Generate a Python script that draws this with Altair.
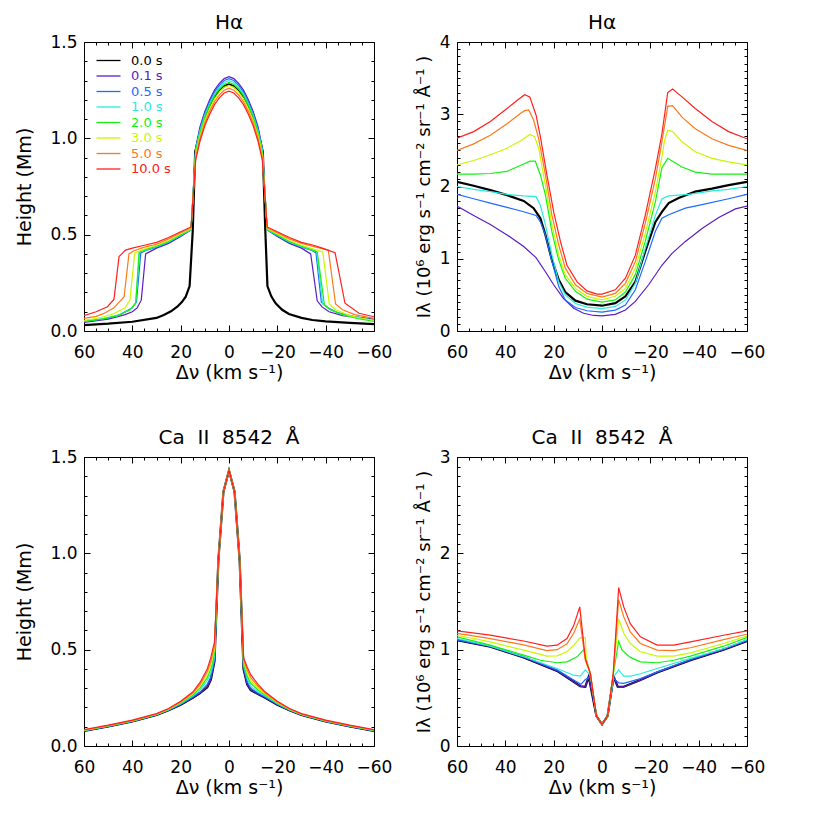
import altair as alt
import pandas as pd

FONT = "DejaVu Sans"
LABELS = ["0.0 s", "0.1 s", "0.5 s", "1.0 s", "2.0 s", "3.0 s", "5.0 s", "10.0 s"]
COLORS = ["#000000", "#5c1cc4", "#1c6cff", "#28ecdc", "#14f014", "#c8f800", "#ff7818", "#ff2020"]

XMAJ = [60, 40, 20, 0, -20, -40, -60]
XMIN = [55, 50, 45, 35, 30, 25, 15, 10, 5, -5, -10, -15, -25, -30, -35, -45, -50, -55]

# ---------------- H-alpha: formation height (Mm) ----------------
HA_HEIGHT = {
    "0.0 s": ([60, 50, 40, 30, 27, 24, 21.4, 19.5, 17.9, 16.3, 15.0, 14.0, 12, 10, 8, 6, 4, 2, 0, -2, -4, -6, -8, -10, -12, -14.0, -15.0, -15.9, -17.5, -19.3, -22, -24.8, -30, -34.5, -40, -50, -60],
              [0.031, 0.038, 0.048, 0.068, 0.083, 0.102, 0.126, 0.15, 0.178, 0.233, 0.52, 0.93, 1.03, 1.11, 1.17, 1.215, 1.25, 1.27, 1.28, 1.27, 1.25, 1.215, 1.17, 1.11, 1.03, 0.93, 0.53, 0.233, 0.18, 0.144, 0.11, 0.088, 0.068, 0.057, 0.05, 0.042, 0.036]),
    "0.1 s": ([60, 50, 46, 43, 40, 38, 36.3, 34.5, 30, 25, 20, 15.7, 13.8, 12, 10, 8, 6, 4, 2, 0, -2, -4, -6, -8, -10, -12, -13.8, -15.8, -20, -25, -30, -33.8, -36.5, -38.5, -41.4, -47, -60],
              [0.045, 0.062, 0.074, 0.085, 0.10, 0.12, 0.16, 0.40, 0.43, 0.455, 0.49, 0.525, 0.95, 1.06, 1.14, 1.20, 1.25, 1.285, 1.31, 1.32, 1.31, 1.285, 1.25, 1.20, 1.14, 1.06, 0.95, 0.525, 0.49, 0.455, 0.43, 0.40, 0.157, 0.125, 0.10, 0.08, 0.062]),
    "0.5 s": ([60, 50, 45, 40, 38.3, 36.5, 34, 30, 25, 20, 15.7, 13.8, 12, 10, 8, 6, 4, 2, 0, -2, -4, -6, -8, -10, -12, -13.8, -15.8, -20, -25, -30, -34, -36, -38.2, -41, -45, -52, -60],
              [0.048, 0.065, 0.085, 0.12, 0.15, 0.405, 0.42, 0.435, 0.46, 0.495, 0.525, 0.945, 1.05, 1.13, 1.19, 1.24, 1.275, 1.30, 1.31, 1.30, 1.275, 1.24, 1.19, 1.13, 1.05, 0.945, 0.525, 0.495, 0.46, 0.435, 0.42, 0.405, 0.15, 0.12, 0.095, 0.075, 0.058]),
    "1.0 s": ([60, 52, 46, 41, 38.6, 37, 34, 30, 25, 20, 15.7, 13.8, 12, 10, 8, 6, 4, 2, 0, -2, -4, -6, -8, -10, -12, -13.8, -15.8, -20, -25, -30, -34, -36.3, -38.8, -42, -47, -53, -60],
              [0.05, 0.065, 0.082, 0.11, 0.145, 0.41, 0.422, 0.438, 0.462, 0.497, 0.525, 0.94, 1.04, 1.12, 1.18, 1.23, 1.265, 1.29, 1.30, 1.29, 1.265, 1.23, 1.18, 1.12, 1.04, 0.94, 0.525, 0.497, 0.462, 0.438, 0.422, 0.41, 0.14, 0.11, 0.085, 0.068, 0.055]),
    "2.0 s": ([60, 52, 46, 41, 38.6, 37.2, 34, 30, 25, 20, 15.7, 13.8, 12, 10, 8, 6, 4, 2, 0, -2, -4, -6, -8, -10, -12, -13.8, -15.8, -20, -25, -30, -34, -36.5, -39.5, -42, -47, -53, -60],
              [0.05, 0.063, 0.08, 0.11, 0.145, 0.41, 0.425, 0.44, 0.465, 0.50, 0.527, 0.93, 1.03, 1.11, 1.17, 1.22, 1.255, 1.28, 1.29, 1.28, 1.255, 1.22, 1.17, 1.11, 1.03, 0.93, 0.527, 0.50, 0.465, 0.44, 0.425, 0.41, 0.135, 0.11, 0.085, 0.065, 0.05]),
    "3.0 s": ([60, 53, 48, 43, 41, 39, 34, 30, 25, 20, 15.7, 13.8, 12, 10, 8, 6, 4, 2, 0, -2, -4, -6, -8, -10, -12, -13.8, -15.8, -20, -25, -30, -35, -38.8, -41.5, -44, -50, -55, -60],
              [0.055, 0.07, 0.088, 0.12, 0.16, 0.405, 0.43, 0.445, 0.47, 0.505, 0.53, 0.915, 1.015, 1.095, 1.155, 1.205, 1.24, 1.265, 1.275, 1.265, 1.24, 1.205, 1.155, 1.095, 1.015, 0.915, 0.53, 0.505, 0.47, 0.445, 0.425, 0.41, 0.14, 0.11, 0.08, 0.066, 0.055]),
    "5.0 s": ([60, 55, 52, 47.6, 43.4, 41.4, 39.5, 35, 30, 25, 20, 15.7, 13.8, 12, 10, 8, 6, 4, 2, 0, -2, -4, -6, -8, -10, -12, -13.8, -15.8, -20, -25, -30, -36, -41.1, -44.1, -47, -52, -60],
              [0.065, 0.076, 0.09, 0.12, 0.178, 0.40, 0.415, 0.435, 0.45, 0.478, 0.51, 0.535, 0.90, 1.00, 1.08, 1.14, 1.19, 1.225, 1.25, 1.26, 1.25, 1.225, 1.19, 1.14, 1.08, 1.00, 0.90, 0.535, 0.51, 0.478, 0.455, 0.435, 0.42, 0.14, 0.11, 0.085, 0.065]),
    "10.0 s": ([60, 55, 50.3, 47.6, 45.5, 42.8, 40, 35, 30, 25, 20, 15.7, 13.8, 12, 10, 8, 6, 4, 2, 0, -2, -4, -6, -8, -10, -12, -13.8, -15.8, -20, -25, -30, -35, -38.6, -43.9, -48, -53.8, -60],
               [0.08, 0.1, 0.126, 0.164, 0.386, 0.42, 0.43, 0.445, 0.46, 0.485, 0.515, 0.54, 0.885, 0.985, 1.065, 1.125, 1.175, 1.21, 1.235, 1.245, 1.235, 1.21, 1.175, 1.125, 1.065, 0.985, 0.885, 0.54, 0.515, 0.485, 0.46, 0.445, 0.43, 0.406, 0.144, 0.092, 0.074]),
}

# ---------------- H-alpha: intensity ----------------
HA_INT = {
    "0.0 s": ([60, 53.1, 46.2, 39.3, 32.4, 28.3, 25.5, 23.4, 20.7, 17.9, 15.2, 11, 6.2, 0, -5.5, -9.7, -13.8, -17.9, -22.1, -24.8, -27.6, -31.7, -38.6, -45.5, -52.4, -60],
              [2.065, 2.01, 1.95, 1.88, 1.80, 1.70, 1.56, 1.33, 0.98, 0.71, 0.54, 0.42, 0.37, 0.35, 0.385, 0.48, 0.68, 1.10, 1.51, 1.65, 1.77, 1.84, 1.93, 1.97, 2.02, 2.065]),
    "0.1 s": ([60, 53.1, 46.2, 39.3, 32.4, 27.3, 23.4, 20, 15.9, 11.7, 7.6, 3.4, 0, -5.5, -9.7, -13.8, -19.3, -24.8, -29, -34.5, -41.4, -48.3, -55.2, -60],
              [1.73, 1.60, 1.475, 1.33, 1.17, 1.015, 0.82, 0.64, 0.45, 0.315, 0.245, 0.215, 0.21, 0.23, 0.29, 0.41, 0.64, 0.91, 1.075, 1.24, 1.42, 1.57, 1.69, 1.73]),
    "0.5 s": ([60, 53.1, 46.2, 39.3, 32.4, 27.3, 25.5, 23.4, 20.7, 17.9, 15.2, 11, 6.2, 0, -5.5, -9.7, -13.8, -17.9, -22.1, -24.8, -27.6, -34.5, -41.4, -52.4, -60],
              [1.89, 1.83, 1.77, 1.71, 1.65, 1.60, 1.51, 1.33, 0.96, 0.615, 0.43, 0.325, 0.28, 0.26, 0.29, 0.36, 0.57, 0.96, 1.38, 1.56, 1.61, 1.70, 1.75, 1.83, 1.89]),
    "1.0 s": ([60, 53.1, 46.2, 39.3, 32.4, 27.3, 25.5, 23.4, 20.7, 17.9, 15.2, 11, 6.2, 0, -5.5, -9.7, -13.8, -17.9, -22.1, -24.8, -27.6, -35.9, -45.5, -52.4, -60],
              [2.00, 1.96, 1.93, 1.89, 1.87, 1.86, 1.74, 1.47, 1.05, 0.68, 0.50, 0.38, 0.33, 0.31, 0.34, 0.43, 0.66, 1.14, 1.60, 1.83, 1.87, 1.89, 1.94, 1.96, 2.00]),
    "2.0 s": ([60, 53.1, 46.2, 39.3, 33.8, 29.7, 27.6, 25.5, 23.4, 20.7, 17.9, 15.2, 11, 6.2, 0, -5.5, -9.7, -13.8, -17.9, -22.1, -24.8, -27.2, -29.2, -33.1, -38.6, -45.5, -60],
              [2.17, 2.17, 2.18, 2.21, 2.29, 2.35, 2.35, 2.16, 1.88, 1.37, 0.98, 0.73, 0.55, 0.44, 0.40, 0.43, 0.54, 0.78, 1.24, 1.79, 2.26, 2.39, 2.35, 2.27, 2.20, 2.17, 2.17]),
    "3.0 s": ([60, 53.1, 46.2, 39.3, 33.8, 29.9, 27.9, 26.2, 23.4, 20.7, 17.9, 15.2, 11, 6.2, 0, -5.5, -9.7, -13.8, -17.9, -22.1, -24.8, -25.8, -27.2, -29.2, -33.1, -38.6, -45.5, -52.4, -60],
              [2.30, 2.36, 2.44, 2.53, 2.63, 2.72, 2.69, 2.53, 2.02, 1.47, 1.05, 0.78, 0.59, 0.48, 0.43, 0.48, 0.59, 0.87, 1.35, 1.93, 2.41, 2.62, 2.78, 2.76, 2.62, 2.48, 2.39, 2.34, 2.30]),
    "5.0 s": ([60, 53.1, 46.2, 39.3, 33.8, 32, 30.3, 28.3, 26.2, 23.4, 20.7, 17.9, 15.2, 11, 6.2, 0, -5.5, -9.7, -13.8, -17.9, -22.1, -24.8, -27.2, -29.2, -33.1, -38.6, -45.5, -52.4, -60],
              [2.50, 2.59, 2.71, 2.87, 3.01, 3.05, 3.06, 2.92, 2.66, 2.16, 1.60, 1.19, 0.87, 0.64, 0.52, 0.47, 0.52, 0.66, 0.96, 1.49, 2.11, 2.62, 3.11, 3.12, 2.96, 2.80, 2.66, 2.57, 2.50]),
    "10.0 s": ([60, 53.1, 46.2, 39.3, 35.2, 32, 29.9, 27.3, 25.5, 22.8, 20, 17.2, 14.5, 10.3, 6.2, 2.1, 0, -5.5, -9.7, -13.8, -17.9, -22.1, -24.8, -27.2, -29.2, -33.1, -38.6, -45.5, -52.4, -60],
               [2.67, 2.76, 2.90, 3.08, 3.19, 3.27, 3.24, 2.99, 2.69, 2.16, 1.65, 1.24, 0.91, 0.68, 0.555, 0.51, 0.51, 0.57, 0.73, 1.05, 1.60, 2.25, 2.73, 3.30, 3.35, 3.24, 3.08, 2.90, 2.76, 2.66]),
}

# ---------------- Ca II 8542: formation height (Mm) ----------------
CA_V = [60, 50, 40, 30, 25, 20, 15, 12, 9, 7.5, 6, 4.4, 2.3, 0, -2.3, -4.4, -6, -7.5, -9, -12, -15, -20, -25, -30, -40, -50, -60]
CA_HEIGHT = {
    "0.0 s": (CA_V, [0.078, 0.101, 0.127, 0.161, 0.185, 0.214, 0.25, 0.275, 0.305, 0.345, 0.44, 0.965, 1.32, 1.43, 1.32, 0.965, 0.40, 0.32, 0.29, 0.27, 0.25, 0.214, 0.185, 0.161, 0.127, 0.101, 0.078]),
    "0.1 s": (CA_V, [0.078, 0.101, 0.127, 0.161, 0.185, 0.214, 0.25, 0.275, 0.305, 0.345, 0.44, 0.965, 1.32, 1.43, 1.32, 0.965, 0.40, 0.32, 0.29, 0.27, 0.25, 0.214, 0.185, 0.161, 0.127, 0.101, 0.078]),
    "0.5 s": (CA_V, [0.079, 0.102, 0.128, 0.162, 0.186, 0.217, 0.255, 0.28, 0.32, 0.36, 0.45, 0.965, 1.32, 1.43, 1.32, 0.965, 0.41, 0.335, 0.30, 0.275, 0.255, 0.217, 0.186, 0.162, 0.128, 0.102, 0.079]),
    "1.0 s": (CA_V, [0.08, 0.103, 0.129, 0.163, 0.188, 0.22, 0.26, 0.29, 0.34, 0.38, 0.46, 0.965, 1.32, 1.43, 1.32, 0.965, 0.42, 0.35, 0.31, 0.28, 0.26, 0.22, 0.188, 0.163, 0.129, 0.103, 0.08]),
    "2.0 s": (CA_V, [0.081, 0.104, 0.13, 0.164, 0.19, 0.223, 0.265, 0.30, 0.355, 0.40, 0.48, 0.965, 1.32, 1.43, 1.32, 0.965, 0.43, 0.365, 0.325, 0.29, 0.265, 0.223, 0.19, 0.164, 0.13, 0.104, 0.081]),
    "3.0 s": (CA_V, [0.082, 0.105, 0.131, 0.165, 0.191, 0.226, 0.27, 0.31, 0.37, 0.42, 0.50, 0.965, 1.32, 1.43, 1.32, 0.965, 0.44, 0.38, 0.34, 0.30, 0.27, 0.226, 0.191, 0.165, 0.131, 0.105, 0.082]),
    "5.0 s": (CA_V, [0.083, 0.106, 0.132, 0.166, 0.193, 0.229, 0.275, 0.32, 0.385, 0.44, 0.52, 0.965, 1.32, 1.43, 1.32, 0.965, 0.45, 0.395, 0.355, 0.31, 0.275, 0.229, 0.193, 0.166, 0.132, 0.106, 0.083]),
    "10.0 s": (CA_V, [0.085, 0.108, 0.134, 0.168, 0.195, 0.232, 0.28, 0.33, 0.40, 0.46, 0.54, 0.965, 1.32, 1.43, 1.32, 0.965, 0.46, 0.41, 0.37, 0.32, 0.28, 0.232, 0.195, 0.168, 0.134, 0.108, 0.085]),
}

# ---------------- Ca II 8542: intensity ----------------
CA_INT = {
    "0.0 s": ([60, 46.2, 32.4, 18.6, 11.7, 9.0, 6.9, 5.5, 2.3, 0, -2.3, -4.8, -6.5, -9, -15.9, -22.8, -36.6, -50.3, -60],
              [1.10, 1.03, 0.92, 0.78, 0.667, 0.62, 0.615, 0.72, 0.31, 0.225, 0.31, 0.72, 0.615, 0.615, 0.684, 0.763, 0.89, 1.0, 1.09]),
    "0.1 s": ([60, 46.2, 32.4, 18.6, 11.7, 9.0, 6.9, 5.5, 2.3, 0, -2.3, -4.8, -6.5, -9, -15.9, -22.8, -36.6, -50.3, -60],
              [1.10, 1.03, 0.92, 0.78, 0.667, 0.62, 0.615, 0.72, 0.31, 0.225, 0.31, 0.72, 0.615, 0.615, 0.684, 0.763, 0.89, 1.0, 1.09]),
    "0.5 s": ([60, 46.2, 32.4, 18.6, 11.7, 8.7, 6.9, 4.8, 2.3, 0, -2.3, -4.8, -6.9, -9, -15.9, -22.8, -36.6, -50.3, -60],
              [1.105, 1.036, 0.926, 0.79, 0.684, 0.64, 0.69, 0.72, 0.31, 0.225, 0.31, 0.70, 0.656, 0.65, 0.70, 0.77, 0.898, 1.01, 1.10]),
    "1.0 s": ([60, 46.2, 32.4, 18.6, 11.7, 9.0, 6.9, 4.8, 2.3, 0, -2.3, -4.8, -6.9, -9, -11.7, -15.9, -22.8, -36.6, -50.3, -60],
              [1.116, 1.036, 0.926, 0.805, 0.735, 0.725, 0.79, 0.73, 0.31, 0.225, 0.31, 0.72, 0.79, 0.725, 0.725, 0.75, 0.805, 0.91, 1.01, 1.105]),
    "2.0 s": ([60, 46.2, 32.4, 25.5, 18.6, 14.5, 10.3, 7.6, 4.8, 2.3, 0, -2.3, -4.6, -6.9, -8.3, -11.7, -15.9, -22.8, -29.7, -36.6, -50.3, -60],
              [1.133, 1.047, 0.943, 0.89, 0.864, 0.874, 0.926, 1.00, 0.75, 0.31, 0.225, 0.31, 0.735, 1.088, 0.995, 0.92, 0.874, 0.864, 0.89, 0.933, 1.036, 1.126]),
    "3.0 s": ([60, 46.2, 32.4, 22.8, 18.6, 14.5, 11.7, 9.0, 6.9, 6.5, 4.8, 2.3, 0, -2.3, -4.6, -6.9, -9, -11.7, -15.9, -22.8, -29.7, -36.6, -50.3, -60],
              [1.15, 1.08, 0.995, 0.933, 0.936, 0.978, 1.047, 1.126, 1.126, 0.90, 0.75, 0.31, 0.225, 0.31, 0.735, 1.32, 1.17, 1.064, 0.978, 0.933, 0.933, 0.967, 1.064, 1.14]),
    "5.0 s": ([60, 46.2, 32.4, 22.8, 18.6, 14.5, 11.7, 9.2, 6.9, 4.8, 2.3, 0, -2.3, -4.6, -6.9, -9, -11.7, -15.9, -22.8, -29.7, -36.6, -50.3, -60],
              [1.17, 1.115, 1.05, 0.99, 1.00, 1.06, 1.17, 1.32, 0.89, 0.75, 0.31, 0.225, 0.31, 0.735, 1.52, 1.34, 1.185, 1.064, 0.995, 0.99, 1.02, 1.105, 1.16]),
    "10.0 s": ([60, 46.2, 32.4, 22.8, 18.6, 14.5, 11.7, 9.2, 6.9, 4.8, 2.3, 0, -2.3, -4.6, -6.9, -9, -11.7, -15.9, -22.8, -29.7, -36.6, -50.3, -60],
               [1.195, 1.15, 1.09, 1.036, 1.047, 1.116, 1.25, 1.444, 0.91, 0.75, 0.31, 0.225, 0.31, 0.735, 1.644, 1.444, 1.27, 1.133, 1.047, 1.047, 1.08, 1.15, 1.195]),
}


def frame(series):
    rows = []
    for k, lab in enumerate(LABELS):
        vs, ys = series[lab]
        for v, y in zip(vs, ys):
            rows.append({"t": lab, "k": k, "v": v, "val": y})
    return pd.DataFrame(rows)


def ax(orient, values, size, labels=False, title=None, fmt=None, domain=True,
       label_pad=0, title_pad=0, title_size=19):
    kw = dict(orient=orient, values=values, tickSize={"expr": str(-size)},
              labels=labels, grid=False, domain=domain, ticks=True,
              tickColor="black", domainColor="black", tickWidth=1, domainWidth=1)
    if labels:
        kw.update(labelFont=FONT, labelFontSize=17, labelColor="black",
                  labelPadding=label_pad, format=fmt, labelOverlap=False,
                  labelFlush=False)
    if title:
        kw.update(title=title, titleFont=FONT, titleFontSize=title_size,
                  titleFontWeight="normal", titlePadding=title_pad, titleColor="black")
    else:
        kw["title"] = None
    return alt.Axis(**kw)


label_fill = " : ".join(f"datum.label === '{l}' ? '{c}'" for l, c in zip(LABELS[:-1], COLORS[:-1]))
label_fill += f" : '{COLORS[-1]}'"

LEGEND = alt.Legend(title=None, orient="none", legendX=18, legendY=12, padding=0,
                    symbolType="M-4,0H4", symbolSize=36, symbolStrokeWidth=1.3,
                    labelFont=FONT, labelFontSize=13, labelOffset=16, rowPadding=1.5,
                    labelColor={"expr": label_fill})


def panel(series, ymax, ymaj, ymin, yfmt, ytitle, title, ytitle_pad, ytitle_size,
          legend=False):
    df = frame(series)
    xs = alt.Scale(domain=[-60, 60], reverse=True, nice=False, zero=False)
    ys = alt.Scale(domain=[0, ymax], nice=False, zero=False)
    base = alt.Chart(df)
    col = alt.Color("t:N", scale=alt.Scale(domain=LABELS, range=COLORS),
                    legend=LEGEND if legend else None)
    lines = base.mark_line(clip=True).encode(
        x=alt.X("v:Q", scale=xs, axis=ax("bottom", XMAJ, 6, labels=True,
                                          title="Δν (km s⁻¹)", fmt="d",
                                          label_pad=19, title_pad=3)),
        y=alt.Y("val:Q", scale=ys, axis=ax("left", ymaj, 6, labels=True,
                                            title=ytitle, fmt=yfmt,
                                            label_pad=13, title_pad=ytitle_pad,
                                            title_size=ytitle_size)),
        color=col,
        strokeWidth=alt.condition(alt.datum.t == "0.0 s", alt.value(2.2), alt.value(1.2)),
    )

    def ghost(xa, ya):
        return base.mark_line(opacity=0).encode(
            x=alt.X("v:Q", scale=xs, axis=xa),
            y=alt.Y("val:Q", scale=ys, axis=ya),
        )

    g1 = ghost(ax("bottom", XMIN, 3, domain=False), ax("left", ymin, 3, domain=False))
    g2 = ghost(ax("top", XMAJ, 6), ax("right", ymaj, 6))
    g3 = ghost(ax("top", XMIN, 3, domain=False), ax("right", ymin, 3, domain=False))

    return alt.layer(lines, g1, g2, g3).resolve_axis(
        x="independent", y="independent"
    ).properties(
        width=290, height=289,
        title=alt.TitleParams(text=title, font=FONT, fontSize=20, fontWeight="normal",
                              color="black", offset=0),
    )


min15 = [round(i / 10, 1) for i in range(1, 15) if i % 5]
min4 = [round(i / 10, 1) for i in range(1, 40) if i % 10]
min3 = [round(i / 10, 1) for i in range(1, 30) if i % 10]
INT_TITLE = "Iλ (10⁶ erg s⁻¹ cm⁻² sr⁻¹ Å⁻¹ )"
CA_TITLE = "Ca\u2007II\u20078542\u2007Å"

p1 = panel(HA_HEIGHT, 1.5, [0, 0.5, 1.0, 1.5], min15, ".1f", "Height (Mm)", "Hα", 15, 19, legend=True)
p2 = panel(HA_INT, 4, [0, 1, 2, 3, 4], min4, "d", INT_TITLE, "Hα", 6, 18)
p3 = panel(CA_HEIGHT, 1.5, [0, 0.5, 1.0, 1.5], min15, ".1f", "Height (Mm)", CA_TITLE, 15, 19)
p4 = panel(CA_INT, 3, [0, 1, 2, 3], min3, "d", INT_TITLE, CA_TITLE, 6, 18)

chart = alt.concat(
    p1, p2, p3, p4, columns=2, spacing={"row": 126, "column": 83}, bounds="flush"
).resolve_scale(color="independent").properties(
    padding={"left": 7, "top": 5, "right": 6, "bottom": 6}
).configure(font=FONT).configure_view(stroke=None)

chart.save("out.html", embed_options={"renderer": "svg", "actions": False})
